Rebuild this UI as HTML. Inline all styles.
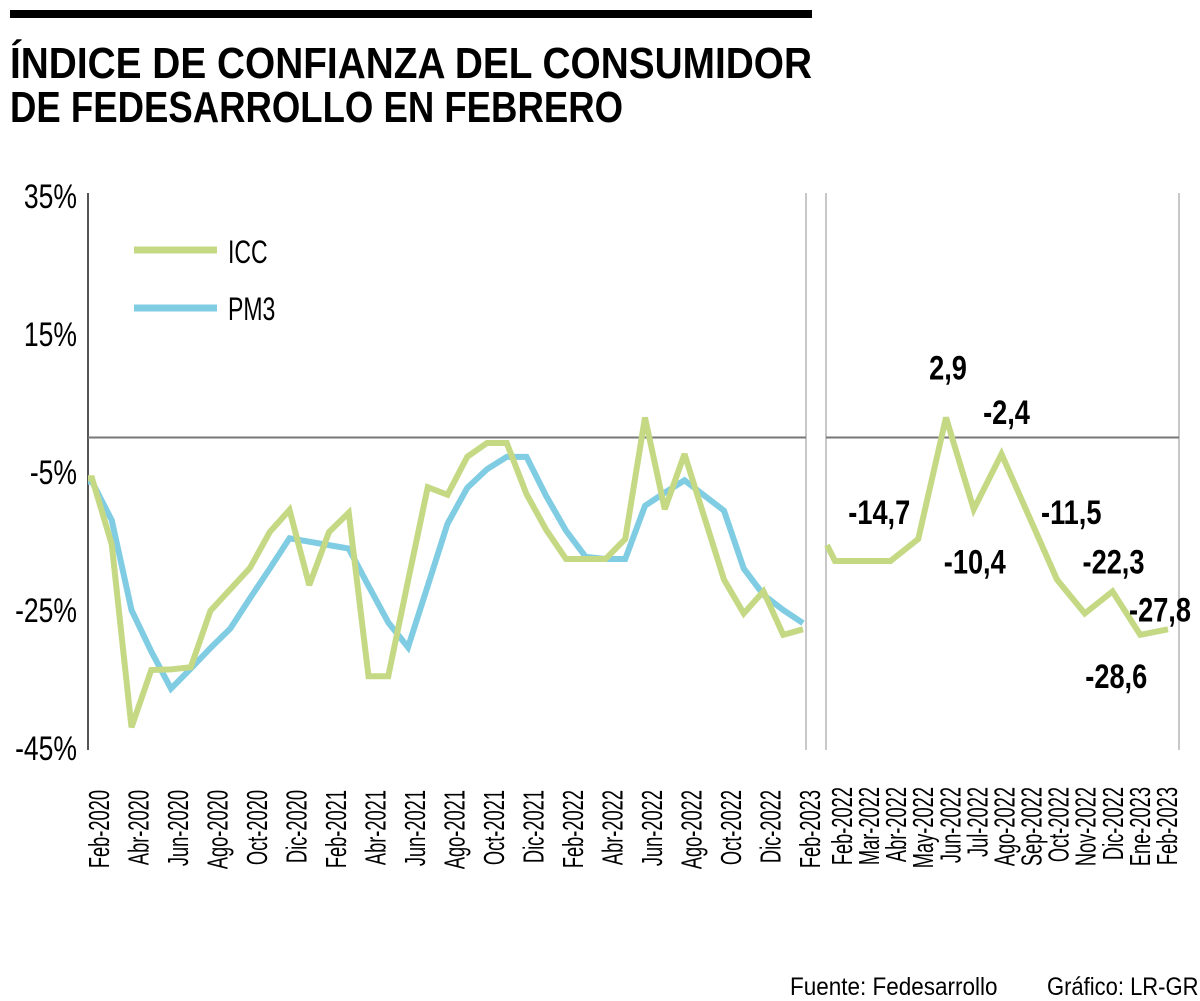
<!DOCTYPE html>
<html><head><meta charset="utf-8"><style>
html,body{margin:0;padding:0;background:#fff;}
svg{display:block;font-family:"Liberation Sans",sans-serif;}
</style></head><body>
<svg id="chart" width="1200" height="1001" viewBox="0 0 1200 1001" xmlns="http://www.w3.org/2000/svg">
<rect x="10" y="10" width="802" height="8" fill="#000"/>
<text x="10" y="78" font-size="44" font-weight="bold" textLength="802" lengthAdjust="spacingAndGlyphs">ÍNDICE DE CONFIANZA DEL CONSUMIDOR</text>
<text x="10" y="122" font-size="44" font-weight="bold" textLength="613" lengthAdjust="spacingAndGlyphs">DE FEDESARROLLO EN FEBRERO</text>
<g id="grid"></g>
<g id="marks"></g>
<g id="labels"></g>
<g>
<line x1="134" y1="250" x2="217" y2="250" stroke="#c5d985" stroke-width="7"/>
<text transform="translate(228,263) scale(0.72,1)" font-size="32">ICC</text>
<line x1="134" y1="308" x2="217" y2="308" stroke="#7fcce3" stroke-width="7"/>
<text transform="translate(228,320) scale(0.72,1)" font-size="32">PM3</text>
</g>
<text transform="translate(790,995) scale(0.9,1)" font-size="25">Fuente: Fedesarrollo</text>
<text transform="translate(1047,995) scale(0.88,1)" font-size="25">Gráfico: LR-GR</text>
</svg>
<script>
const leftCats=["Feb-2020","Mar-2020","Abr-2020","May-2020","Jun-2020","Jul-2020","Ago-2020","Sep-2020","Oct-2020","Nov-2020","Dic-2020","Ene-2021","Feb-2021","Mar-2021","Abr-2021","May-2021","Jun-2021","Jul-2021","Ago-2021","Sep-2021","Oct-2021","Nov-2021","Dic-2021","Ene-2022","Feb-2022","Mar-2022","Abr-2022","May-2022","Jun-2022","Jul-2022","Ago-2022","Sep-2022","Oct-2022","Nov-2022","Dic-2022","Ene-2023","Feb-2023"];
const iccValues=[-5.9,-15.5,-42,-33.7,-33.6,-33.3,-25.1,-22,-18.9,-13.7,-10.5,-21.4,-13.7,-10.9,-34.6,-34.6,-20.8,-7.2,-8.3,-2.8,-0.8,-0.8,-8.2,-13.4,-17.6,-17.6,-17.6,-14.7,2.9,-10.4,-2.4,-11.5,-20.6,-25.5,-22.3,-28.6,-27.8];
const pm3Values=[-6.4,-12,-25,-31,-36.4,-33.5,-30.5,-27.7,-23.3,-19,-14.6,-15.1,-15.6,-16.1,-21.5,-26.8,-30.4,-21.5,-12.5,-7.3,-4.6,-2.8,-2.8,-8.5,-13.5,-17.3,-17.6,-17.6,-9.9,-8,-6.2,-8.4,-10.6,-19,-22.8,-25,-26.9];
const rightCats=["Feb-2022","Mar-2022","Abr-2022","May-2022","Jun-2022","Jul-2022","Ago-2022","Sep-2022","Oct-2022","Nov-2022","Dic-2022","Ene-2023","Feb-2023"];
const rightStart=-15.6;
const rightValues=[-17.9,-17.9,-17.9,-14.7,2.9,-10.4,-2.4,-11.5,-20.6,-25.5,-22.3,-28.6,-27.8];
const valueLabels=["","","","-14,7","2,9","-10,4","-2,4","-11,5","","","-22,3","-28,6","-27,8"];
const yTicks=[35,15,-5,-25,-45];
const yTickLabels=["35%","15%","-5%","-25%","-45%"];

const NS="http://www.w3.org/2000/svg";
const Y0=437.5, PX=6.9;
const y=v=>Y0-v*PX;
const lx=i=>92+i*19.75;
const rx=i=>835+i*27.75;
const rlx=i=>841+i*27.08;
function el(tag,attrs,parent,text){const e=document.createElementNS(NS,tag);for(const k in attrs)e.setAttribute(k,attrs[k]);if(text!==undefined)e.textContent=text;parent.appendChild(e);return e;}
const grid=document.getElementById('grid'),marks=document.getElementById('marks'),labels=document.getElementById('labels');

let a=el('line',{x1:88,y1:193,x2:88,y2:750,stroke:'#555','stroke-width':2},grid);


[[806],[826],[1179]].forEach((p,i)=>{const l=el('line',{x1:p[0],y1:193,x2:p[0],y2:750,stroke:'#c8c8c8','stroke-width':2},grid);

});
let z1=el('line',{x1:88,y1:y(0),x2:806,y2:y(0),stroke:'#777','stroke-width':2},grid);


let z2=el('line',{x1:826,y1:y(0),x2:1179,y2:y(0),stroke:'#777','stroke-width':2},grid);



yTicks.forEach((t,i)=>{const tx=el('text',{transform:`translate(77,${y(t)+12}) scale(0.78,1)`,'font-size':34,'text-anchor':'end'},labels,yTickLabels[i]);

});

leftCats.forEach((c,i)=>{if(i%2)return;const tx=el('text',{transform:`translate(${lx(i)+17},790) rotate(-90) scale(0.63,1)`,'font-size':29,'text-anchor':'end'},labels,c);

});
rightCats.forEach((c,i)=>{const tx=el('text',{transform:`translate(${rlx(i)+11},787) rotate(-90) scale(0.63,1)`,'font-size':29,'text-anchor':'end'},labels,c);

});

function line(pts,color,name){const p=el('polyline',{points:pts.map(q=>q[0]+','+q[1]).join(' '),fill:'none',stroke:color,'stroke-width':6,'stroke-linejoin':'miter','stroke-miterlimit':3},marks);

}
line([[88,y(pm3Values[0])]].concat(pm3Values.map((v,i)=>[lx(i),y(v)])),'#7fcce3','pm3-line');
line([[88,y(iccValues[0])]].concat(iccValues.map((v,i)=>[lx(i),y(v)])),'#c5d985','icc-line-left');
line([[827,y(rightStart)]].concat(rightValues.map((v,i)=>[rx(i),y(v)])),'#c5d985','icc-line-right');

const off={"-14,7":[-39,-27],"2,9":[2,-50],"-10,4":[1,52],"-2,4":[5,-42],"-11,5":[42,-5],"-22,3":[1,-30],"-28,6":[-24,41],"-27,8":[-8,-20]};
valueLabels.forEach((t,i)=>{if(!t)return;const o=off[t]||[0,-20];const tx=el('text',{transform:`translate(${rx(i)+o[0]},${y(rightValues[i])+o[1]+12}) scale(0.8,1)`,'font-size':34,'font-weight':'bold','text-anchor':'middle'},labels,t);

});
</script>
</body></html>
